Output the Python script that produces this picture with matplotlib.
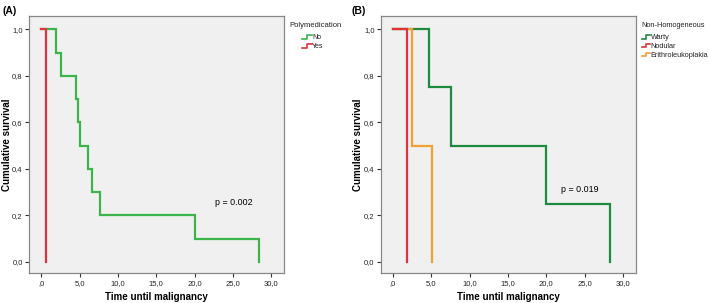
import matplotlib
matplotlib.use("Agg")
import matplotlib.pyplot as plt
from matplotlib.legend_handler import HandlerBase
from matplotlib.lines import Line2D

plt.rcParams['font.family'] = ['Liberation Sans', 'DejaVu Sans']

# Panel A: Polymedication
a_no_t = [0.0, 1.95, 2.6, 4.47, 4.82, 5.04, 6.12, 6.6, 7.6, 20.1, 28.44]
a_no_s = [1.0, 0.9, 0.8, 0.7, 0.6, 0.5, 0.4, 0.3, 0.2, 0.1, 0.0]
a_yes_t = [0.0, 0.56]
a_yes_s = [1.0, 0.0]

# Panel B: Non-Homogeneous
b_warty_t = [0.0, 4.76, 7.58, 19.96, 28.35]
b_warty_s = [1.0, 0.75, 0.5, 0.25, 0.0]
b_nod_t = [0.0, 1.86]
b_nod_s = [1.0, 0.0]
b_eri_t = [0.0, 2.5, 5.06]
b_eri_s = [1.0, 0.5, 0.0]

xticks = [0, 5, 10, 15, 20, 25, 30]
xticklabels = [",0", "5,0", "10,0", "15,0", "20,0", "25,0", "30,0"]
yticks = [0.0, 0.2, 0.4, 0.6, 0.8, 1.0]
yticklabels = ["0,0", "0,2", "0,4", "0,6", "0,8", "1,0"]

C_GREEN_A = "#3cb44a"
C_RED = "#e0323c"
C_GREEN_B = "#1e8a3e"
C_ORANGE = "#f2a035"


class HandlerStep(HandlerBase):
    def create_artists(self, legend, orig_handle, xdescent, ydescent, width, height, fontsize, trans):
        x0 = -xdescent
        y0 = -ydescent
        xs = [x0, x0 + 0.55 * width, x0 + 0.55 * width, x0 + width]
        ys = [y0 + 0.15 * height, y0 + 0.15 * height, y0 + 0.8 * height, y0 + 0.8 * height]
        ln = Line2D(xs, ys, color=orig_handle.get_color(), lw=1.2, transform=trans)
        return [ln]


def step_curve(ax, t, s, color):
    xs, ys = [], []
    for i in range(len(t)):
        if i == 0:
            xs.append(t[0]); ys.append(s[0])
        else:
            xs.append(t[i]); ys.append(s[i - 1])
            xs.append(t[i]); ys.append(s[i])
    ax.plot(xs, ys, color=color, lw=1.6, solid_joinstyle='miter')


fig = plt.figure(figsize=(7.09, 3.03), dpi=100)
axA = fig.add_axes([0.0409, 0.098, 0.360, 0.849])
axB = fig.add_axes([0.537, 0.098, 0.360, 0.849])

for ax in (axA, axB):
    ax.set_facecolor("#f0f0f0")
    ax.set_xlim(-1.6, 31.7)
    ax.set_ylim(-0.049, 1.057)
    ax.set_xticks(xticks)
    ax.set_xticklabels(xticklabels)
    ax.set_yticks(yticks)
    ax.set_yticklabels(yticklabels)
    ax.tick_params(axis='both', labelsize=5.5, length=3, width=0.8, color="#333333", pad=1.5,
                   labelcolor="#222222")
    for sp in ax.spines.values():
        sp.set_color("#888888")
        sp.set_linewidth(0.9)
    ax.set_xlabel("Time until malignancy", fontsize=7, fontweight='bold', labelpad=4)
    ax.set_ylabel("Cumulative survival", fontsize=7, fontweight='bold', va='center')
    ax.yaxis.set_label_coords(-0.088, 0.5)

step_curve(axA, a_no_t, a_no_s, C_GREEN_A)
step_curve(axA, a_yes_t, a_yes_s, C_RED)
axA.text(25.1, 0.254, "p = 0.002", fontsize=6.4, ha='center', va='center')

step_curve(axB, b_warty_t, b_warty_s, C_GREEN_B)
step_curve(axB, b_eri_t, b_eri_s, C_ORANGE)
step_curve(axB, b_nod_t, b_nod_s, C_RED)
axB.text(24.4, 0.313, "p = 0.019", fontsize=6.4, ha='center', va='center')

fig.text(0.003, 0.965, "(A)", fontsize=7.5, fontweight='bold', ha='left', va='center')
fig.text(0.496, 0.965, "(B)", fontsize=7.5, fontweight='bold', ha='left', va='center')

# Legend A
axA.text(1.019, 0.965, "Polymedication", transform=axA.transAxes, fontsize=5.5,
         ha='left', va='center', color="#222222")
hA = [Line2D([], [], color=C_GREEN_A), Line2D([], [], color=C_RED)]
axA.legend(hA, ["No", "Yes"], loc='upper left', bbox_to_anchor=(1.07, 0.93),
           frameon=False, fontsize=5, handlelength=1.4, handleheight=0.8,
           handletextpad=0.05, labelspacing=0.3, borderaxespad=0, borderpad=0,
           handler_map={Line2D: HandlerStep()}, labelcolor="#222222")

# Legend B
axB.text(1.0196, 0.965, "Non-Homogeneous", transform=axB.transAxes, fontsize=5.3,
         ha='left', va='center', color="#222222")
hB = [Line2D([], [], color=C_GREEN_B), Line2D([], [], color=C_RED), Line2D([], [], color=C_ORANGE)]
axB.legend(hB, ["Warty", "Nodular", "Erithroleukoplakia"], loc='upper left',
           bbox_to_anchor=(1.022, 0.93), frameon=False, fontsize=5.2,
           handlelength=1.2, handleheight=0.8, handletextpad=0.05, labelspacing=0.2,
           borderaxespad=0, borderpad=0, handler_map={Line2D: HandlerStep()},
           labelcolor="#222222")

fig.savefig("out.png", dpi=100)
